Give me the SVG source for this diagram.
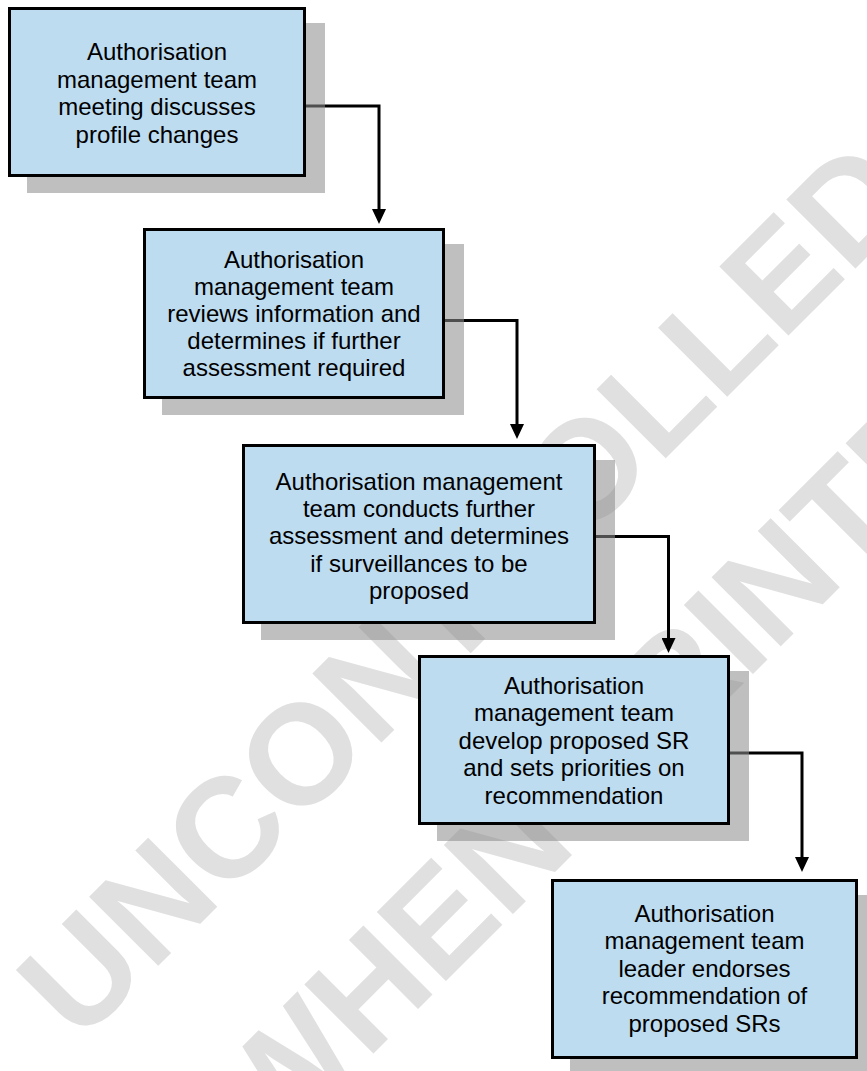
<svg xmlns="http://www.w3.org/2000/svg" width="867" height="1071" viewBox="0 0 867 1071">
  <style>
    .wm { font-family: "Liberation Sans", Arial, sans-serif; font-weight: bold; font-size: 142px; fill: #e0e0e0; }
    .shadow { fill: #8d8d8d; fill-opacity: 0.56; }
    .box { fill: #bddcf0; stroke: #000000; stroke-width: 3; }
    .lbl { font-family: "Liberation Sans", Arial, sans-serif; font-size: 24px; fill: #000000; text-anchor: middle; }
    .conn { fill: none; stroke: #000000; stroke-width: 3; marker-end: url(#arrow); }
  </style>
  <defs>
    <marker id="arrow" markerUnits="userSpaceOnUse" markerWidth="15" markerHeight="14" refX="10" refY="7" orient="auto">
      <path d="M0,0 L15,7 L0,14 z" fill="#000000"/>
    </marker>
  </defs>
  <rect width="867" height="1071" fill="#ffffff"/>

  <g id="watermark">
    <text class="wm" transform="translate(79,1045) rotate(-45)">UNCONTROLLED</text>
    <text class="wm" transform="translate(272,1155) rotate(-45)">WHEN PRINTED</text>
  </g>

  <g id="connectors">
    <path class="conn" d="M306 106 H379 V219"/>
    <path class="conn" d="M445 320.5 H517 V434"/>
    <path class="conn" d="M596 536.5 H668.5 V648"/>
    <path class="conn" d="M730 753 H802 V867"/>
  </g>

  <g id="shadows">
    <rect class="shadow" x="27" y="23" width="298" height="170"/>
    <rect class="shadow" x="162" y="244" width="302" height="171"/>
    <rect class="shadow" x="261" y="460" width="354" height="180"/>
    <rect class="shadow" x="437" y="671" width="312" height="170"/>
    <rect class="shadow" x="570" y="895" width="307" height="180"/>
  </g>

  <g id="node1">
    <rect class="box" x="9.5" y="8.5" width="295" height="167"/>
    <text class="lbl" x="157" y="60">Authorisation</text>
    <text class="lbl" x="157" y="87.6">management team</text>
    <text class="lbl" x="157" y="115.2">meeting discusses</text>
    <text class="lbl" x="157" y="142.8">profile changes</text>
  </g>

  <g id="node2">
    <rect class="box" x="144.5" y="229.5" width="299" height="168"/>
    <text class="lbl" x="294" y="267.5">Authorisation</text>
    <text class="lbl" x="294" y="294.5">management team</text>
    <text class="lbl" x="294" y="321.5">reviews information and</text>
    <text class="lbl" x="294" y="348.5">determines if further</text>
    <text class="lbl" x="294" y="375.5">assessment required</text>
  </g>

  <g id="node3">
    <rect class="box" x="243.5" y="445.5" width="351" height="177"/>
    <text class="lbl" x="419" y="490">Authorisation management</text>
    <text class="lbl" x="419" y="517.2">team conducts further</text>
    <text class="lbl" x="419" y="544.4">assessment and determines</text>
    <text class="lbl" x="419" y="571.6">if surveillances to be</text>
    <text class="lbl" x="419" y="598.8">proposed</text>
  </g>

  <g id="node4">
    <rect class="box" x="419.5" y="656.5" width="309" height="167"/>
    <text class="lbl" x="574" y="694">Authorisation</text>
    <text class="lbl" x="574" y="721.4">management team</text>
    <text class="lbl" x="574" y="748.8">develop proposed SR</text>
    <text class="lbl" x="574" y="776.2">and sets priorities on</text>
    <text class="lbl" x="574" y="803.6">recommendation</text>
  </g>

  <g id="node5">
    <rect class="box" x="552.5" y="880.5" width="304" height="177"/>
    <text class="lbl" x="704.5" y="921.7">Authorisation</text>
    <text class="lbl" x="704.5" y="949.2">management team</text>
    <text class="lbl" x="704.5" y="976.7">leader endorses</text>
    <text class="lbl" x="704.5" y="1004.2">recommendation of</text>
    <text class="lbl" x="704.5" y="1031.7">proposed SRs</text>
  </g>
</svg>
